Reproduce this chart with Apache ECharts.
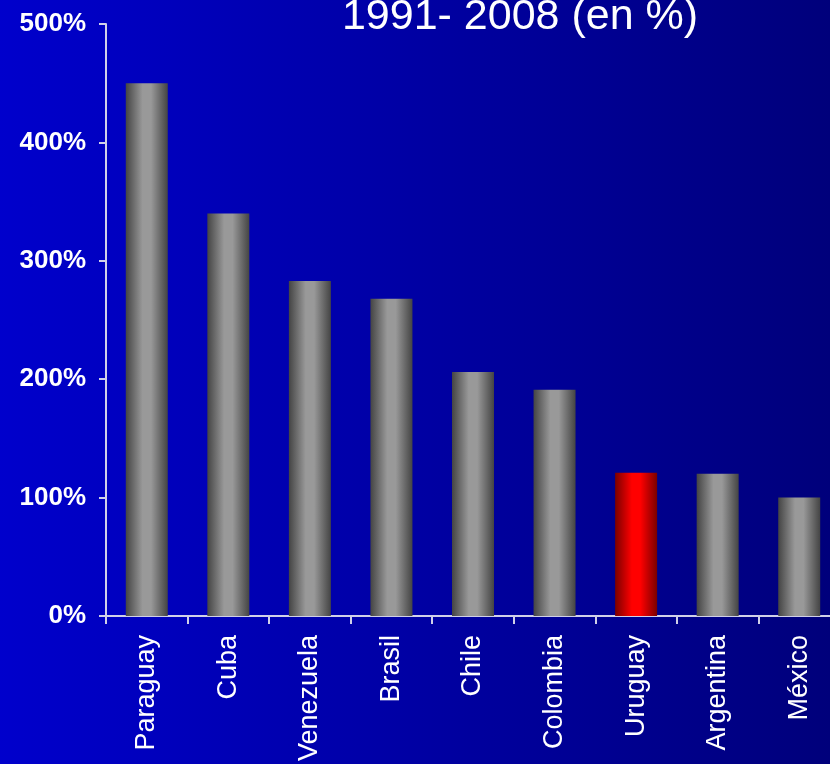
<!DOCTYPE html>
<html><head><meta charset="utf-8">
<script src="https://cdn.jsdelivr.net/npm/echarts@6/dist/echarts.min.js"></script>
<style>html,body{margin:0;padding:0;overflow:hidden;width:830px;height:764px}#c{width:840px;height:764px}</style>
</head><body><div id="c"></div>
<script>
const categories = ['Paraguay','Cuba','Venezuela','Brasil','Chile','Colombia','Uruguay','Argentina','México'];
const values = [450, 340, 283, 268, 206, 191, 121, 120, 100];
const highlight = 'Uruguay';
const titleText = '1991- 2008 (en %)';

function grad(edge, mid){
  return new echarts.graphic.LinearGradient(0,0,1,0,[
    {offset:0,color:edge},{offset:0.4,color:mid},{offset:0.6,color:mid},{offset:1,color:edge}]);
}
const chart = echarts.init(document.getElementById('c'), null, {renderer:'canvas'});
chart.setOption({
  animation:false,
  backgroundColor: new echarts.graphic.LinearGradient(0,0,1,0,[{offset:0,color:'#0000CC'},{offset:1,color:'#00007A'}]),
  title:{text:titleText,left:515,top:-9,textAlign:'center',textStyle:{color:'#fff',fontSize:43,fontWeight:'normal',fontFamily:'Liberation Sans'}},
  grid:{left:106,right:0,top:24,bottom:147,containLabel:false},
  xAxis:{type:'category',data:categories,
    axisLine:{lineStyle:{color:'#d0d0e8',width:2}},
    axisTick:{show:true,length:8,lineStyle:{color:'#d0d0e8',width:2},alignWithLabel:false},
    axisLabel:{rotate:90,color:'#fff',fontSize:27,fontFamily:'Liberation Sans',margin:19,interval:0}},
  yAxis:{type:'value',min:0,max:500,interval:100,
    axisLine:{show:true,lineStyle:{color:'#d0d0e8',width:2}},
    axisTick:{show:true,length:7,lineStyle:{color:'#d0d0e8',width:2}},
    splitLine:{show:false},
    axisLabel:{formatter:'{value}%',color:'#fff',fontSize:26,fontWeight:'bold',fontFamily:'Liberation Sans',margin:20}},
  series:[{type:'bar',barWidth:'51.5%',
    data:values.map((v,i)=>({value:v,itemStyle:{color: categories[i]===highlight? grad('#7a0000','#ff0000') : grad('#444444','#999999')}}))}]
});
</script></body></html>
